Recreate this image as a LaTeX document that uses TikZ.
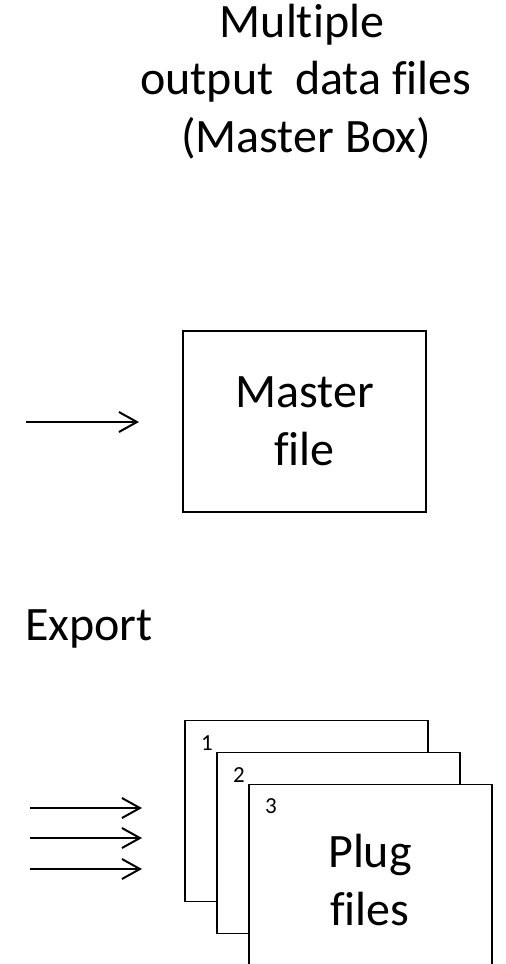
\documentclass[tikz,border=0pt]{standalone}
\usepackage{fontspec}
\setmainfont{Carlito}[Ligatures=CommonOff]
\usetikzlibrary{arrows.meta}

\tikzset{
  bigtext/.style={font=\fontsize{48}{58}\selectfont, inner sep=0pt},
  smalltext/.style={font=\fontsize{23}{26}\selectfont, inner sep=0pt, anchor=base},
  filebox/.style={draw=black, line width=1.4pt, fill=white,
    minimum width=243pt, minimum height=181pt, inner sep=0pt,
    align=center, font=\fontsize{48}{58}\selectfont},
  feed/.style={line width=2pt, -{Straight Barb[length=18pt,width=20pt,line width=2pt]}}
}

\begin{document}
\begin{tikzpicture}[x=1pt, y=-1pt]
  \useasboundingbox (0,0) rectangle (506,964);

  % heading
  \node[bigtext, anchor=base] (t1) at (302,37) {Multiple};
  \node[bigtext, anchor=base] (t2) at (306,94) {output\ \ data files};
  \node[bigtext, anchor=base] (t3) at (306,152) {(Master Box)};

  % master file with its input arrow
  \node[filebox] (master) at (304.5,421.5) {Master\\file};
  \coordinate (min) at (26,422);
  \coordinate (mout) at (139,422);
  \draw[feed] (min) -- (mout);

  % export label
  \node[bigtext, anchor=base west] (export) at (25,640) {Export};

  % stacked plug files
  \node[filebox] (p1) at (306.5,811) {};
  \node[filebox] (p2) at (338.5,843) {};
  \node[filebox] (p3) at (370.5,875) {};
  \node[bigtext, align=center] (plugtext) at (370,880) {Plug\\files};
  \node[smalltext] (n1) at (207,750) {1};
  \node[smalltext] (n2) at (239,782) {2};
  \node[smalltext] (n3) at (271,813) {3};

  % three input arrows
  \coordinate (a1) at (30,808);
  \coordinate (b1) at (142,808);
  \coordinate (a2) at (30,838);
  \coordinate (b2) at (142,838);
  \coordinate (a3) at (30,869);
  \coordinate (b3) at (142,869);
  \draw[feed] (a1) -- (b1);
  \draw[feed] (a2) -- (b2);
  \draw[feed] (a3) -- (b3);
\end{tikzpicture}
\end{document}
